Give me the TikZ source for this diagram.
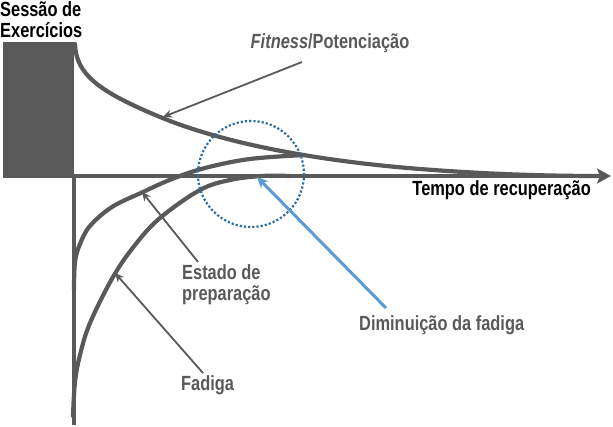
\documentclass[tikz,border=0pt]{standalone}
\usepackage{fontspec}
\setmainfont{Liberation Sans}[FakeStretch=0.8]
\usetikzlibrary{arrows.meta}
\definecolor{cinza}{HTML}{595959}
\definecolor{azul}{HTML}{5B9BD5}
\definecolor{azulesc}{HTML}{2E6DA4}

\begin{document}
\begin{tikzpicture}[x=1pt,y=-1pt]
\tikzstyle{every node}+=[inner sep=0pt]
\tikzstyle{lbl}=[font=\fontsize{20.5}{21.5}\selectfont\bfseries, text=cinza, align=left]
\tikzstyle{curva}=[cinza, line width=4.2pt, line cap=round]
\tikzstyle{seta}=[cinza, line width=1.8pt, -{Stealth[length=9pt,width=8pt]}]
\useasboundingbox (0,0) rectangle (613,427);
% sessao de treino
\fill [cinza] (3,42) rectangle (74,178);
\node [lbl, text=black, anchor=north west] (sessao) at (0,1) {Sessão de\\Exercícios};
% eixos
\coordinate (origem) at (74,176);
\coordinate (fimx) at (611,176);
\coordinate (fimy) at (74,425);
\draw [cinza, line width=4pt] (74,178) -- (fimy);
\draw [cinza, line width=4pt, -{Stealth[length=14pt,width=15pt,inset=3pt]}] (origem) -- (fimx);
\node [lbl, text=black, anchor=north east] (tempo) at (591,180) {Tempo de recuperação};
% curvas
\draw [curva] (75,44) .. controls (76,75) and (100,92) .. (160,117)
  .. controls (230,146) and (330,162) .. (420,169)
  .. controls (490,174.5) and (550,176) .. (600,176);
\draw [curva] plot [smooth, tension=0.6] coordinates {(74,290) (75,262) (80,244) (90,226) (112,207) (143,192) (172,179) (205,168) (250,159) (305,155)};
\draw [curva] plot [smooth, tension=0.6] coordinates {(73,416) (75,382) (80,355) (90,323) (113,277) (135,245) (160,218) (200,190) (230,180) (262,176) (290,176)};
% circulo
\draw [azulesc, line width=2.2pt, dotted] (251,174) circle (53);
% rotulos
\node [lbl, anchor=south] (fitness) at (330,53) {\textit{Fitness}/Potenciação};
\node [lbl, anchor=north west] (estado) at (182,264) {Estado de\\preparação};
\node [lbl, anchor=north west] (fadiga) at (181,375) {Fadiga};
\node [lbl, anchor=north west] (diminui) at (359,315) {Diminuição da fadiga};
% setas
\coordinate (pfit) at (163,117);
\coordinate (pest) at (142,192);
\coordinate (pfad) at (115,273);
\coordinate (pdim) at (257,177);
\draw [seta] (302,62) -- (pfit);
\draw [seta] (198,262) -- (pest);
\draw [seta] (203,373) -- (pfad);
\draw [azul, line width=3pt, -{Stealth[length=11pt,width=10pt]}] (386,308) -- (pdim);
\end{tikzpicture}
\end{document}
